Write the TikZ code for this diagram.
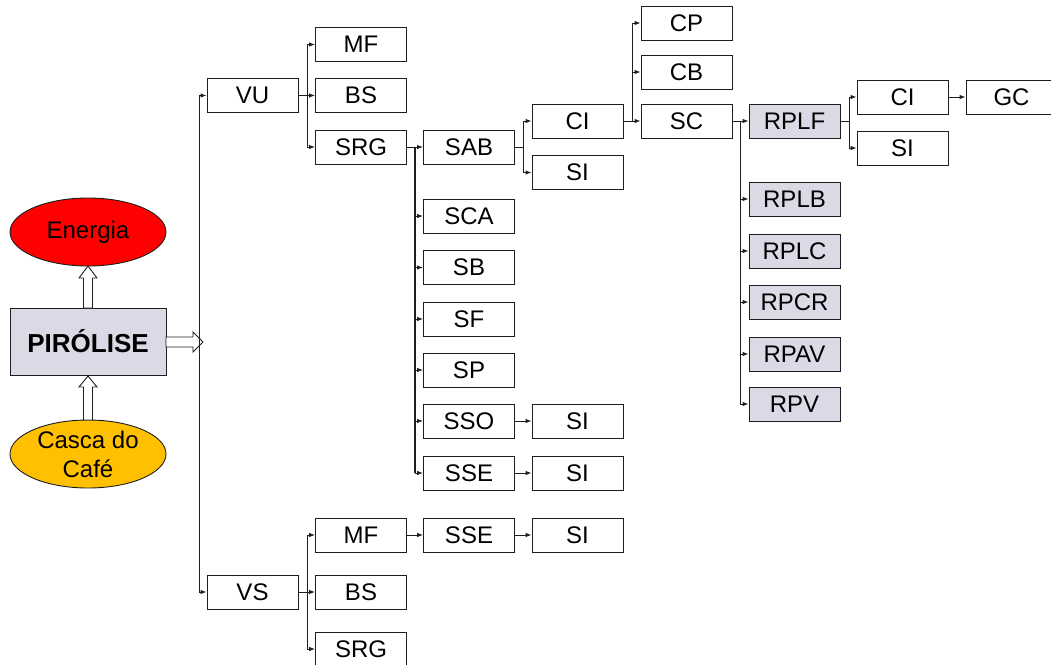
\documentclass[tikz,border=0pt]{standalone}
\usepackage{fontspec}
\setmainfont{Liberation Sans}
\usetikzlibrary{arrows.meta,shapes.geometric}
\definecolor{lav}{RGB}{220,216,230}
\definecolor{gold}{RGB}{255,192,0}
\definecolor{ln}{RGB}{30,30,30}
\begin{document}
\begin{tikzpicture}[x=1pt,y=-1pt,
  box/.style={draw=ln, line width=0.9pt, minimum width=91pt, minimum height=34pt, inner sep=0pt, fill=white, font=\fontsize{24}{26}\selectfont},
  rbox/.style={box, fill=lav},
  ell/.style={ellipse, draw=ln, line width=0.9pt, minimum width=156pt, minimum height=68pt, inner sep=0pt, font=\fontsize{24}{29}\selectfont, align=center},
  arr/.style={draw=ln, line width=0.9pt, -{Latex[length=6pt,width=4.5pt]}},
  con/.style={draw=ln, line width=0.9pt},
  trunk/.style={draw=ln, line width=1.8pt},
  hollow/.style={draw=ln, line width=0.9pt, fill=white}]
\useasboundingbox (0,0) rectangle (1051,664);
% left part
\node[box, fill=lav, minimum width=156pt, minimum height=67pt, font=\fontsize{26}{28}\selectfont\bfseries] (PIR) at (88,341.5) {PIRÓLISE};
\node[ell, fill=red] (EN) at (88,232) {Energia};
\node[ell, fill=gold] (CA) at (88,454) {Casca do\\Café};
% hollow arrows
\draw[hollow] (83.5,308) -- (83.5,278) -- (79,278) -- (88,266) -- (97,278) -- (92.5,278) -- (92.5,308) -- cycle;
\draw[hollow] (83.5,420) -- (83.5,387) -- (79,387) -- (88,376) -- (97,387) -- (92.5,387) -- (92.5,420) -- cycle;
\coordinate (T) at (199,341.5);
\draw[hollow] (166,337) -- (193,337) -- (193,332) -- (203,342) -- (193,352) -- (193,347) -- (166,347) -- cycle;
% level 1
\node[box] (VU) at (252.5,95.5) {VU};
\node[box] (VS) at (252.5,592) {VS};
% VU children
\node[box] (MFa) at (361,44.5) {MF};
\node[box] (BSa) at (361,95.5) {BS};
\node[box] (SRGa) at (361,147) {SRG};
% SRG children
\node[box] (SAB) at (469,147) {SAB};
\node[box] (SCA) at (469,216) {SCA};
\node[box] (SB) at (469,267.5) {SB};
\node[box] (SF) at (469,319) {SF};
\node[box] (SP) at (469,370) {SP};
\node[box] (SSO) at (469,421) {SSO};
\node[box] (SSE) at (469,473) {SSE};
\node[box] (CIa) at (577.5,121) {CI};
\node[box] (SIa) at (577.5,172.5) {SI};
\node[box] (SIo) at (577.5,421) {SI};
\node[box] (SIe) at (577.5,473) {SI};
\node[box] (CP) at (686.5,23) {CP};
\node[box] (CB) at (686.5,72) {CB};
\node[box] (SC) at (686.5,121) {SC};
\node[rbox] (RPLF) at (794.5,121) {RPLF};
\node[rbox] (RPLB) at (794.5,199) {RPLB};
\node[rbox] (RPLC) at (794.5,251) {RPLC};
\node[rbox] (RPCR) at (794.5,302) {RPCR};
\node[rbox] (RPAV) at (794.5,354) {RPAV};
\node[rbox] (RPV) at (794.5,404) {RPV};
\node[box] (CIb) at (902.5,97) {CI};
\node[box] (SIb) at (902.5,148) {SI};
\node[box] (GC) at (1011.5,97) {GC};
% VS children
\node[box] (MFb) at (361,535) {MF};
\node[box] (BSb) at (361,592) {BS};
\node[box] (SRGb) at (361,649) {SRG};
\node[box] (SSEb) at (469,535) {SSE};
\node[box] (SIc) at (577.5,535) {SI};
% connectors
\draw[arr] (T) |- (VU.west);
\draw[arr] (T) |- (VS.west);
\coordinate (J1) at (307,95.5);
\draw[con] (VU.east) -- (J1);
\draw[arr] (J1) |- (MFa.west);
\draw[arr] (J1) -- (BSa.west);
\draw[arr] (J1) |- (SRGa.west);
\coordinate (J2) at (415,147);
\draw[con] (SRGa.east) -- (J2);
\draw[trunk] (J2) -- (J2 |- SSE.west);
\foreach \n in {SAB,SCA,SB,SF,SP,SSO,SSE} \draw[arr] (J2) |- (\n.west);
\coordinate (J3) at (523,147);
\draw[con] (SAB.east) -- (J3);
\draw[arr] (J3) |- (CIa.west);
\draw[arr] (J3) |- (SIa.west);
\draw[arr] (SSO) -- (SIo);
\draw[arr] (SSE) -- (SIe);
\coordinate (J4) at (632,121);
\draw[con] (CIa.east) -- (J4);
\draw[arr] (J4) |- (CP.west);
\draw[arr] (J4) |- (CB.west);
\draw[arr] (J4) -- (SC.west);
\coordinate (J5) at (740,121);
\draw[con] (SC.east) -- (J5);
\foreach \n in {RPLF,RPLB,RPLC,RPCR,RPAV,RPV} \draw[arr] (J5) |- (\n.west);
\coordinate (J6) at (849,121);
\draw[con] (RPLF.east) -- (J6);
\draw[arr] (J6) |- (CIb.west);
\draw[arr] (J6) |- (SIb.west);
\draw[arr] (CIb) -- (GC);
\coordinate (J7) at (307,592);
\draw[con] (VS.east) -- (J7);
\draw[arr] (J7) |- (MFb.west);
\draw[arr] (J7) -- (BSb.west);
\draw[arr] (J7) |- (SRGb.west);
\draw[arr] (MFb) -- (SSEb);
\draw[arr] (SSEb) -- (SIc);
\end{tikzpicture}
\end{document}
